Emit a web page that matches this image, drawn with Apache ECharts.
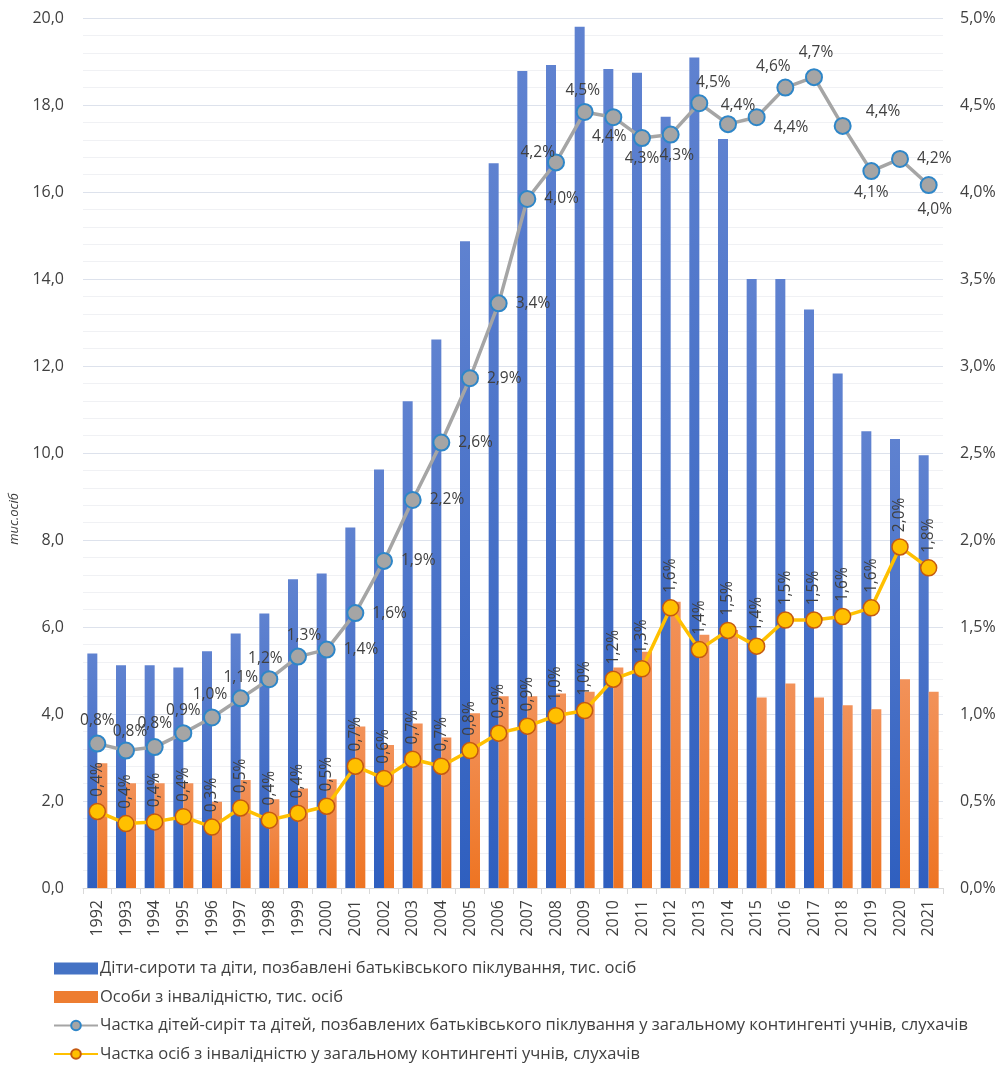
<!DOCTYPE html>
<html>
	<head>
		<meta charset="utf-8"/>
		<title>Діти-сироти та особи з інвалідністю</title>
		<style type="text/css">
			*{margin: 0;padding: 0;}
			html,body{height: 100%;background-color: #fff;}
			.chart{width: 1000px;height: 1072px;}
		</style>
		<script type="text/javascript" src="https://cdn.jsdelivr.net/npm/echarts@6/dist/echarts.min.js"></script>
	</head>
	<body>
		<div class="chart js-chart"></div>
		<script type="text/javascript">
			// дані
			var years=["1992","1993","1994","1995","1996","1997","1998","1999","2000","2001","2002","2003","2004","2005","2006","2007","2008","2009","2010","2011","2012","2013","2014","2015","2016","2017","2018","2019","2020","2021"];
			var orphans=[5.39,5.12,5.12,5.07,5.44,5.85,6.31,7.10,7.23,8.29,9.62,11.19,12.61,14.87,16.66,18.78,18.92,19.80,18.83,18.74,17.73,19.09,17.22,14.0,14.0,13.3,11.83,10.5,10.32,9.95];
			var disabled=[2.87,2.41,2.41,2.41,1.98,2.48,2.04,2.29,2.50,3.71,3.29,3.78,3.46,4.02,4.41,4.41,4.47,4.51,5.07,5.43,6.58,5.82,5.93,4.38,4.70,4.38,4.20,4.11,4.80,4.51];
			var orphansShare=[0.83,0.79,0.81,0.89,0.98,1.09,1.20,1.33,1.37,1.58,1.88,2.23,2.56,2.93,3.36,3.96,4.17,4.46,4.43,4.31,4.33,4.51,4.39,4.43,4.60,4.66,4.38,4.12,4.19,4.04];
			var disabledShare=[0.44,0.37,0.38,0.41,0.35,0.46,0.39,0.43,0.47,0.70,0.63,0.74,0.70,0.79,0.89,0.93,0.99,1.02,1.20,1.26,1.61,1.37,1.48,1.39,1.54,1.54,1.56,1.61,1.96,1.84];
			var names=[
				"Діти-сироти та діти, позбавлені батьківського піклування, тис. осіб",
				"Особи з інвалідністю, тис. осіб",
				"Частка дітей-сиріт та дітей, позбавлених батьківського піклування у загальному контингенті учнів, слухачів",
				"Частка осіб з інвалідністю у загальному контингенті учнів, слухачів"
			];
			// розміщення підписів сірої лінії
			var grayPos=[
				["top",[0,0]],["top",[4,4]],["top",[0,0]],["top",[0,0]],["top",[-2,0]],["top",[0,2]],["top",[-4,2]],["top",[6,2]],
				["right",[2,0]],["right",[2,0]],["right",[2,0]],["right",[2,0]],["right",[2,0]],["right",[2,0]],["right",[2,0]],["right",[2,0]],
				["left",[14,-10]],["top",[-2,2]],["bottom",[-4,-4]],["bottom",[0,-2]],["bottom",[6,-2]],["top",[14,2]],["top",[10,4]],["right",[2,10]],
				["top",[-12,2]],["top",[2,-2]],["right",[8,-14]],["bottom",[0,-2]],["right",[2,0]],["bottom",[6,2]]
			];
			var font="'Open Sans',sans-serif";
			function pct(v){return v.toFixed(1).replace(".",",")+"%";}
			function grad(top,bottom){
				return new echarts.graphic.LinearGradient(0,0,0,1,[{offset:0,color:top},{offset:1,color:bottom}]);
			}
			var grayData=[];
			for(var i=0;i<orphansShare.length;i++){
				grayData.push({value:orphansShare[i],label:{position:grayPos[i][0],offset:grayPos[i][1]}});
			}
			var chart=echarts.init(document.querySelector(".js-chart"));
			var option={
				animation:false,
				textStyle:{fontFamily:font},
				grid:{left:82,right:57,top:18,bottom:184},
				legend:{
					orient:"vertical",left:53,top:960,padding:0,itemGap:11.5,itemWidth:44,itemHeight:12,
					textStyle:{fontSize:16.5,color:"#404040",fontFamily:font,padding:[0,0,0,-3]},
					data:[
						{name:names[0],icon:"rect",itemStyle:{color:"#4472C4"}},
						{name:names[1],icon:"rect",itemStyle:{color:"#ED7D31"}},
						{name:names[2]},
						{name:names[3]}
					]
				},
				xAxis:{
					type:"category",data:years,
					axisLine:{lineStyle:{color:"#d9d9d9"}},
					axisTick:{show:true,length:6,lineStyle:{color:"#d9d9d9"}},
					axisLabel:{rotate:90,fontSize:16,color:"#404040",margin:12}
				},
				yAxis:[{
					type:"value",min:0,max:20,interval:2,
					name:"тис.осіб",nameLocation:"middle",nameGap:62,nameRotate:90,
					nameTextStyle:{fontStyle:"italic",fontSize:13,color:"#404040",padding:[0,132,0,0]},
					axisLabel:{fontSize:16,color:"#404040",margin:19,formatter:function(v){return v.toFixed(1).replace(".",",");}},
					splitLine:{lineStyle:{color:"#dde2ec",width:1.2}},
					minorTick:{show:false,splitNumber:5},
					minorSplitLine:{show:true,lineStyle:{color:"#f0f1f4"}}
				},{
					type:"value",min:0,max:5,interval:0.5,
					axisLabel:{fontSize:16,color:"#404040",margin:17,formatter:function(v){return pct(v);}},
					splitLine:{show:false}
				}],
				series:[{
					name:names[0],type:"bar",data:orphans,barWidth:10,barGap:"0%",
					itemStyle:{color:grad("#5f82d0","#2f5fbf")}
				},{
					name:names[1],type:"bar",data:disabled,barWidth:10,barGap:"0%",
					itemStyle:{color:grad("#f2925a","#ee7422")}
				},{
					name:names[2],type:"line",yAxisIndex:1,data:grayData,
					symbol:"circle",symbolSize:16,
					lineStyle:{color:"#a5a5a5",width:3.5},
					itemStyle:{color:"#a5a5a5",borderColor:"#2e86c8",borderWidth:2},
					label:{show:true,fontSize:15.5,color:"#404040",distance:6,formatter:function(p){return pct(p.value);}},
					z:5
				},{
					name:names[3],type:"line",yAxisIndex:1,data:disabledShare,
					symbol:"circle",symbolSize:16,
					lineStyle:{color:"#ffc000",width:3.5},
					itemStyle:{color:"#ffc000",borderColor:"#c55a11",borderWidth:1.5},
					label:{show:true,position:"top",rotate:90,align:"left",verticalAlign:"middle",distance:6,
						fontSize:15.5,color:"#404040",formatter:function(p){return pct(p.value);}},
					z:6
				}]
			};
			chart.setOption(option);
		</script>
	</body>
</html>
